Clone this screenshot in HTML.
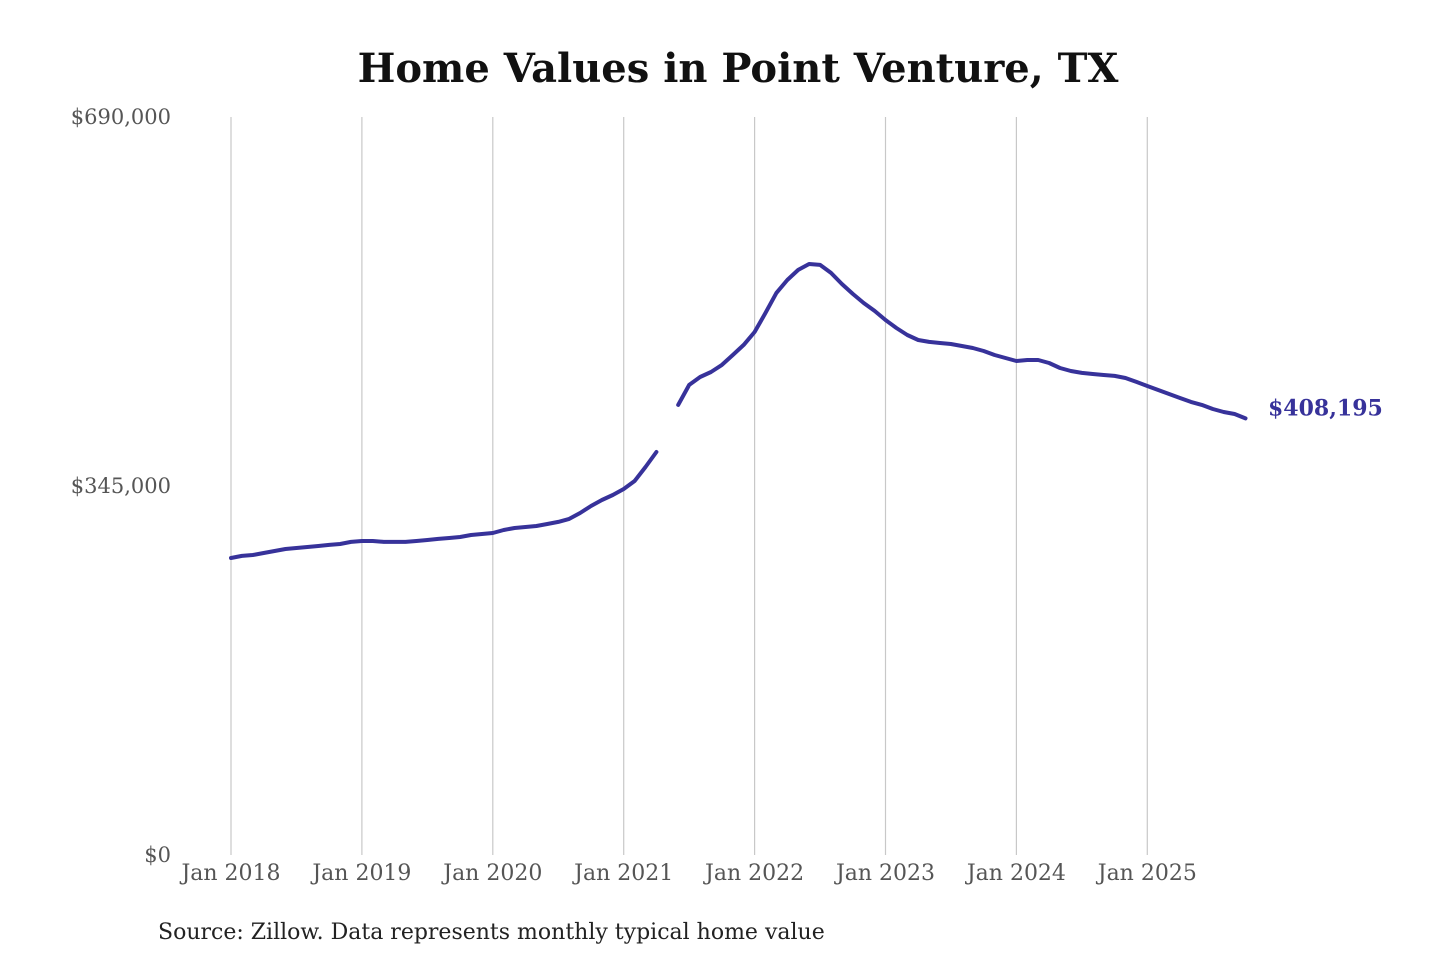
<!DOCTYPE html>
<html><head><meta charset="utf-8"><style>
html,body{margin:0;padding:0;background:#fff;}
body{width:1440px;height:960px;overflow:hidden;}
svg text{font-family:"DejaVu Serif","Liberation Serif",serif;}
</style></head><body>
<svg id="chart" width="1440" height="960" xmlns="http://www.w3.org/2000/svg">
<text x="738" y="82" text-anchor="middle" font-size="40" font-weight="bold" fill="#111">Home Values in Point Venture, TX</text>
<g id="grid"></g><g id="ylab"></g><g id="xlab"></g><g id="series"></g>
<text x="158" y="939" font-size="22" fill="#222">Source: Zillow. Data represents monthly typical home value</text>
</svg>
<script>
const yearLabels = ["Jan 2018","Jan 2019","Jan 2020","Jan 2021","Jan 2022","Jan 2023","Jan 2024","Jan 2025"];
const yTicks = [0, 345000, 690000];
const yTickLabels = ["$0","$345,000","$690,000"];
// monthly values (thousands) Jan 2018 .. Oct 2025; null = missing
const valuesK = [277.7,279.6,280.5,282.4,284.2,286.1,287.0,288.0,288.9,289.9,290.8,292.7,
293.6,293.6,292.7,292.7,292.7,293.6,294.5,295.5,296.4,297.3,299.2,300.1,
301.1,303.9,305.7,306.7,307.6,309.5,311.4,314.2,319.8,326.3,331.9,336.6,
342.2,349.7,362.8,376.8,null,420.8,439.5,446.9,451.6,458.2,467.5,476.9,
489.0,506.8,525.5,537.6,547.0,552.6,551.7,544.2,533.9,524.6,516.1,508.7,
500.2,492.7,486.2,481.5,479.7,478.7,477.8,475.9,474.0,471.2,467.5,464.7,
461.9,462.8,462.8,460.0,455.3,452.5,450.7,449.7,448.8,447.9,446.0,442.3,
438.5,434.8,431.0,427.3,423.6,420.8,417.0,414.2,412.3,408.195];
const lastLabel = "$408,195";

const NS="http://www.w3.org/2000/svg";
const x0=231, pxPerYear=130.9, yBase=855, yTop=117, yMax=690000;
const xScale=m=>x0+m*pxPerYear/12;
const yScale=v=>yBase-(v/yMax)*(yBase-yTop);
function mk(tag,attrs,parent){const e=document.createElementNS(NS,tag);for(const k in attrs)e.setAttribute(k,attrs[k]);parent.appendChild(e);return e;}
const grid=document.getElementById('grid'),xlab=document.getElementById('xlab'),ylab=document.getElementById('ylab'),series=document.getElementById('series');
yearLabels.forEach((l,i)=>{
 const x=xScale(i*12);
 const g=mk('line',{x1:x,x2:x,y1:yTop,y2:yBase,stroke:'#c8c8c8','stroke-width':1.2},grid);
 
 
 const t=mk('text',{x:x,y:880,'text-anchor':'middle','font-size':22,fill:'#555'},xlab);
 t.textContent=l;
 
 
});
yTicks.forEach((v,i)=>{
 const t=mk('text',{x:171,y:yScale(v)+7,'text-anchor':'end','font-size':21,fill:'#555'},ylab);
 t.textContent=yTickLabels[i];
 
 
});
let segs=[],cur=[];
valuesK.forEach((v,i)=>{if(v==null){if(cur.length)segs.push(cur);cur=[];}else cur.push([xScale(i),yScale(v*1000)]);});
if(cur.length)segs.push(cur);
segs.forEach(s=>{
 const p=mk('path',{d:'M'+s.map(q=>q[0].toFixed(1)+','+q[1].toFixed(1)).join('L'),fill:'none',stroke:'#37329a','stroke-width':4,'stroke-linejoin':'round','stroke-linecap':'round'},series);
 
 
});
const li=valuesK.length-1;
const lt=mk('text',{x:1268,y:yScale(valuesK[li]*1000)-3,'font-size':22,'font-weight':'bold',fill:'#37329a'},series);
lt.textContent=lastLabel;


</script>
</body></html>
